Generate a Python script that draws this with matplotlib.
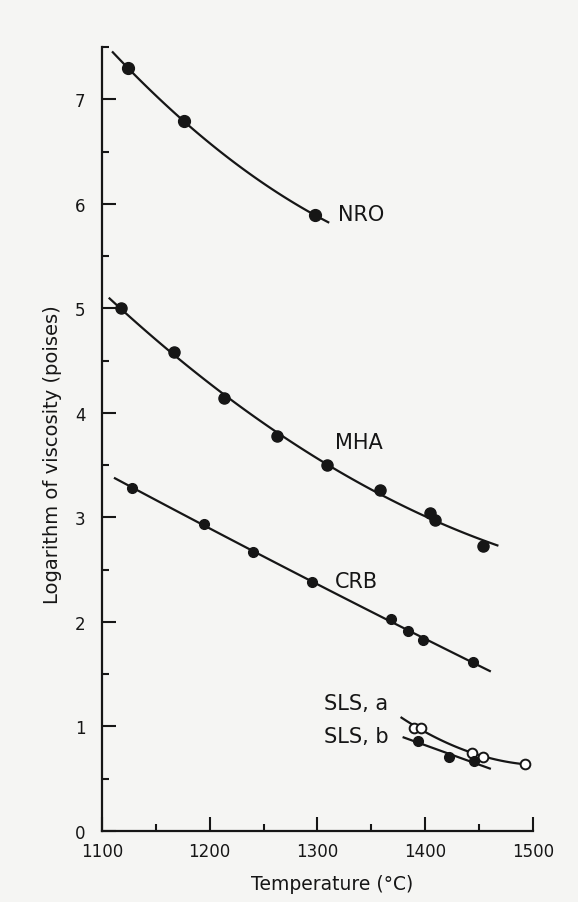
import numpy as np
import matplotlib.pyplot as plt

# log10 viscosity (poises) vs temperature (deg C), read per melt
nro_t = [1124, 1176, 1298]
nro_v = [7.30, 6.79, 5.89]

mha_t = [1118, 1167, 1213, 1262, 1309, 1358, 1404, 1409, 1454]
mha_v = [5.00, 4.58, 4.14, 3.78, 3.50, 3.26, 3.04, 2.98, 2.73]

crb_t = [1128, 1195, 1240, 1295, 1368, 1384, 1398, 1444]
crb_v = [3.28, 2.94, 2.67, 2.38, 2.03, 1.91, 1.83, 1.62]

slsa_t = [1390, 1396, 1443, 1454, 1493]
slsa_v = [0.99, 0.99, 0.75, 0.71, 0.64]

slsb_t = [1393, 1422, 1445]
slsb_v = [0.86, 0.71, 0.67]

# temperature span of each fitted curve and the fit degree
curve_span = {"NRO": (1110, 1310), "MHA": (1107, 1467), "CRB": (1112, 1460),
              "SLSa": (1378, 1492), "SLSb": (1380, 1460)}
curve_deg = {"NRO": 2, "MHA": 2, "CRB": 2, "SLSa": 2, "SLSb": 1}

x_ticks = [1100, 1200, 1300, 1400, 1500]
y_ticks = [0, 1, 2, 3, 4, 5, 6, 7]

ink = "#161616"
paper = "#f5f5f3"

fig = plt.figure(figsize=(5.78, 9.03), dpi=100, facecolor=paper)
ax = fig.add_axes([0.1765, 0.0786, 0.7455, 0.8682])
ax.set_facecolor(paper)


def draw(name, t, v, filled=True, ms=8):
    lo, hi = curve_span[name]
    coef = np.polyfit(t, v, curve_deg[name])
    tt = np.linspace(lo, hi, 100)
    ax.plot(tt, np.polyval(coef, tt), color=ink, lw=1.6, zorder=2)
    if filled:
        ax.plot(t, v, "o", ms=ms, color=ink, zorder=3)
    else:
        ax.plot(t, v, "o", ms=ms, mfc="white", mec=ink, mew=1.4, zorder=3)


draw("NRO", nro_t, nro_v, ms=8.5)
draw("MHA", mha_t, mha_v, ms=8)
draw("CRB", crb_t, crb_v, ms=7)
draw("SLSa", slsa_t, slsa_v, filled=False, ms=7)
draw("SLSb", slsb_t, slsb_v, ms=7)

lab = dict(color=ink, fontsize=15, va="center", family="DejaVu Sans")
ax.text(1319, 5.90, "NRO", **lab)
ax.text(1316, 3.72, "MHA", **lab)
ax.text(1316, 2.39, "CRB", **lab)
ax.text(1366, 1.22, "SLS, a", ha="right", **lab)
ax.text(1366, 0.91, "SLS, b", ha="right", **lab)

ax.set_xlim(1100, 1500)
ax.set_ylim(0, 7.5)
ax.set_xticks(x_ticks)
ax.set_xticks([1150, 1250, 1350, 1450], minor=True)
ax.set_yticks(y_ticks)
ax.set_yticks(np.arange(0.5, 7.6, 1.0), minor=True)

for s in ["top", "right"]:
    ax.spines[s].set_visible(False)
for s in ["left", "bottom"]:
    ax.spines[s].set_linewidth(1.6)
    ax.spines[s].set_color(ink)

ax.tick_params(which="major", direction="in", length=10, width=1.5, color=ink,
               labelsize=12, labelcolor=ink)
ax.tick_params(which="minor", direction="in", length=5, width=1.5, color=ink)
ax.tick_params(axis="y", which="major", pad=12)
ax.tick_params(axis="x", which="major", pad=8)

ax.set_xlabel("Temperature (\u00b0C)", fontsize=13.5, color=ink)
ax.set_ylabel("Logarithm of viscosity (poises)", fontsize=14, color=ink)
ax.xaxis.set_label_coords(0.534, -0.055)
ax.yaxis.set_label_coords(-0.092, 0.481)

fig.savefig("out.png", dpi=100, facecolor=paper)
